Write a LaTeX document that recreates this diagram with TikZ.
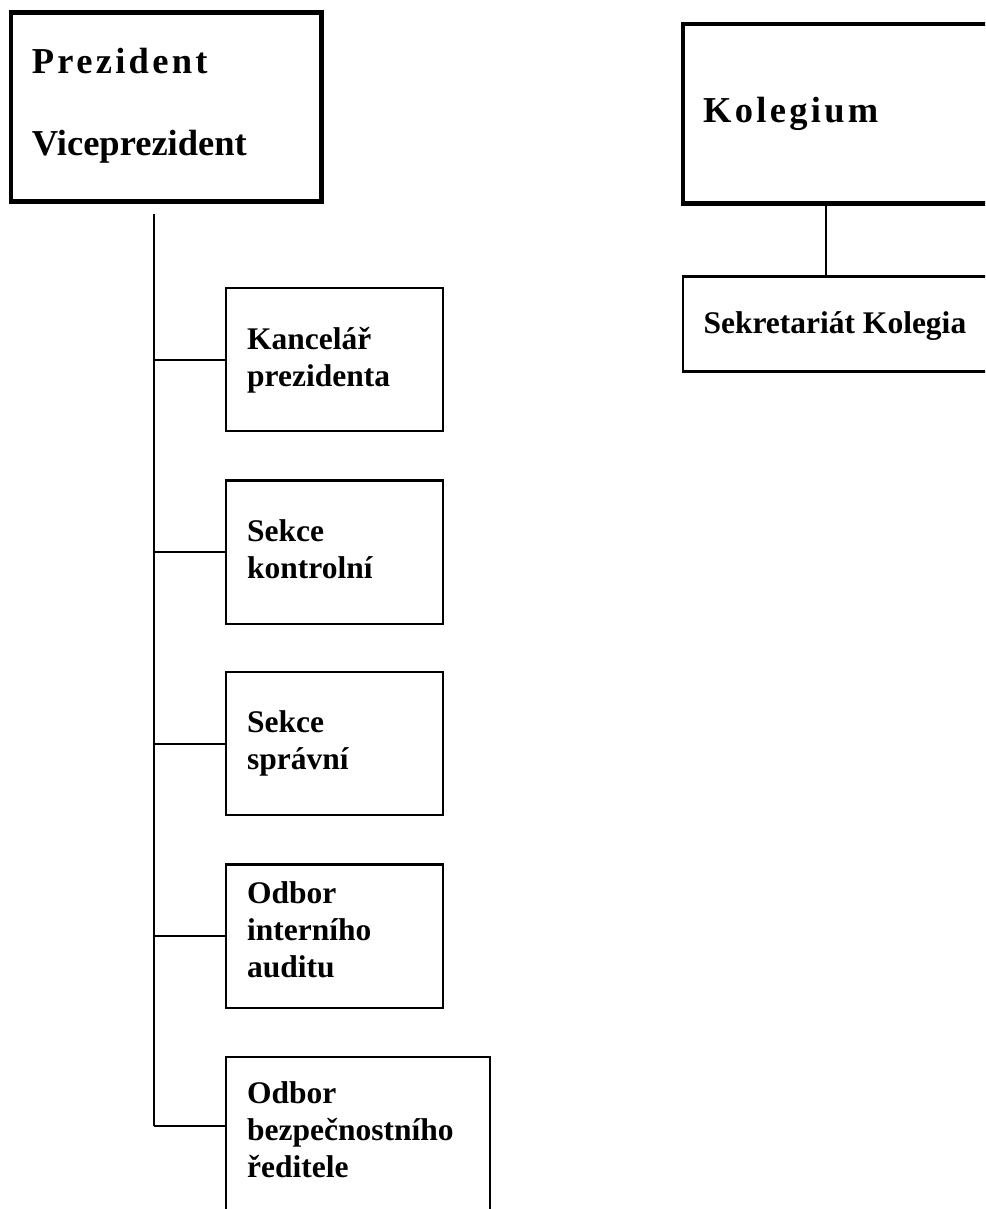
\documentclass[tikz,border=0pt]{standalone}
\usepackage{fontspec}
\setmainfont{Liberation Serif}
% tracked variant for the two body names
\newfontfamily\spacedfont[LetterSpace=9]{Liberation Serif}
\begin{document}
\begin{tikzpicture}[x=1pt,y=-1pt,
  heavybox/.style={draw, line width=4.5pt, inner sep=0pt, outer sep=0pt, anchor=north west},
  unitbox/.style={draw, line width=2.5pt, inner sep=0pt, outer sep=0pt, anchor=north west},
  link/.style={line width=2pt},
  bigtxt/.style={anchor=base west, inner sep=0pt, font=\bfseries\fontsize{36.5}{82}\selectfont},
  txt/.style={anchor=base west, inner sep=0pt, font=\bfseries\fontsize{31.5}{37}\selectfont},
]
\path[use as bounding box] (0,0) rectangle (985,1209);
\clip (0,0) rectangle (985,1209);

% leadership and the board
\node[heavybox, minimum width=310.5, minimum height=189] (pres) at (11,12.5) {};
\node[heavybox, minimum width=330, minimum height=179.5] (kol) at (683,24) {};
\node[unitbox, minimum width=330, minimum height=95] (sek) at (683,276.5) {};

% subordinate units
\node[unitbox, minimum width=217, minimum height=143] (kanc) at (226,288) {};
\node[unitbox, minimum width=217, minimum height=143.5] (kontr) at (226,480.5) {};
\node[unitbox, minimum width=217, minimum height=143] (sprav) at (226,672) {};
\node[unitbox, minimum width=217, minimum height=143.5] (audit) at (226,864.5) {};
\node[unitbox, minimum width=264, minimum height=190] (bezp) at (226,1057) {};

% labels
\node[bigtxt] (t-pres) at (31.7,74) {\parbox[t]{290pt}{{\spacedfont Prezident}\\Viceprezident}};
\node[bigtxt] (t-kol) at (703,122.7) {\spacedfont Kolegium};
\node[txt] (t-sek) at (703.3,333.3) {Sekretariát Kolegia};
\node[txt] (t-kanc) at (247,349.3) {\parbox[t]{200pt}{Kancelář\\prezidenta}};
\node[txt] (t-kontr) at (247,541) {\parbox[t]{200pt}{Sekce\\kontrolní}};
\node[txt] (t-sprav) at (247,732) {\parbox[t]{200pt}{Sekce\\správní}};
\node[txt] (t-audit) at (247,903) {\parbox[t]{200pt}{Odbor\\interního\\auditu}};
\node[txt] (t-bezp) at (247,1103.3) {\parbox[t]{240pt}{Odbor\\bezpečnostního\\ředitele}};

% trunk and branches
\coordinate (trunktop) at (154,214);
\coordinate (trunkend) at (154,1125.5);
\draw[link] (trunktop) -- (trunkend);
\foreach \b in {kanc,kontr,sprav,audit}
  \draw[link] (\b.west -| trunktop) -- (\b.west);
\draw[link] (trunkend) -- (trunkend -| bezp.west);

% board to its secretariat
\coordinate (kolx) at (825.7,0);
\draw[link] (kol.south -| kolx) -- (sek.north -| kolx);
\end{tikzpicture}
\end{document}
